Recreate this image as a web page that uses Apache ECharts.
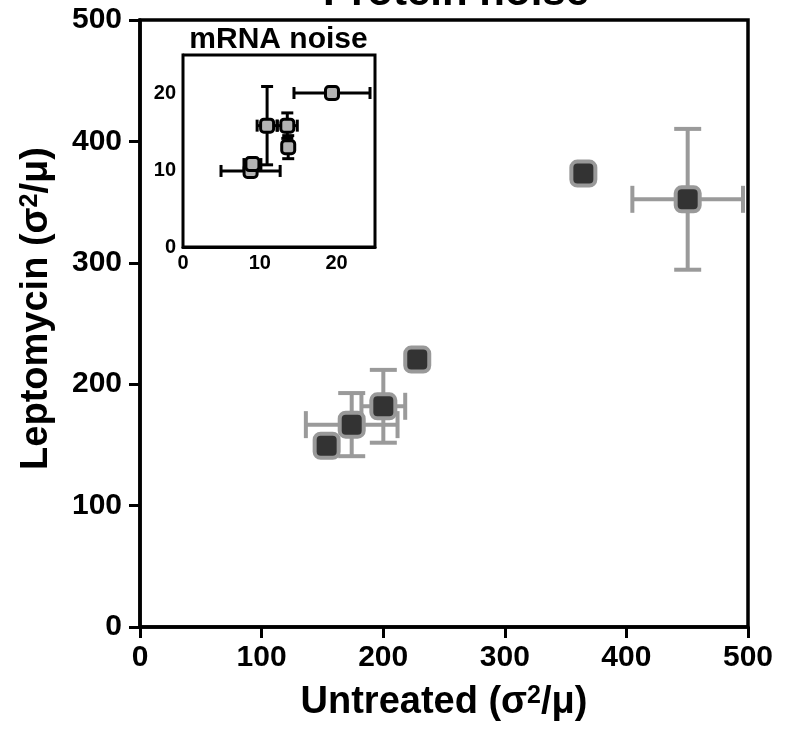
<!DOCTYPE html>
<html><head><meta charset="utf-8">
<script src="https://cdn.jsdelivr.net/npm/echarts@6/dist/echarts.min.js"></script>
<style>html,body{margin:0;padding:0;background:#fff}#c{width:790px;height:733px}</style>
</head><body><div id="c"></div>
<script>
// ---- data ----
const mainTitle = 'Protein noise';
const insetTitle = 'mRNA noise';
const mainTicks = [0, 100, 200, 300, 400, 500];
const insetTicks = [0, 10, 20];
// Protein noise: untreated (x) vs leptomycin (y), with SD
const mainX    = [153.5, 174.1, 200.1, 228.0, 364.6, 450.4];
const mainY    = [149.3, 166.7, 181.8, 220.3, 373.5, 352.3];
const mainXErr = [0, 37.7, 18.0, 0, 0, 45.5];
const mainYErr = [0, 26.0, 30.0, 0, 0, 58.0];
// mRNA noise inset
const insetX    = [8.8, 9.04, 10.95, 13.58, 13.7, 19.4];
const insetY    = [9.9, 10.8, 15.8, 15.8, 13.0, 20.05];
const insetXErr = [3.85, 1.1, 1.3, 1.3, 0, 4.95];
const insetYErr = [0, 0, 5.1, 1.66, 1.5, 0];

const FONT = "'Liberation Sans', Arial, Helvetica, sans-serif";
const mainData = mainX.map((x, i) => [x, mainY[i], mainXErr[i], mainYErr[i]]);
const insetData = insetX.map((x, i) => [x, insetY[i], insetXErr[i], insetYErr[i]]);

function errRender(color, lw, cap) {
  return function (params, api) {
    const x = api.value(0), y = api.value(1), ex = api.value(2), ey = api.value(3);
    const st = { stroke: color, lineWidth: lw, fill: null };
    const ch = [];
    const ln = (a, b, c, d) => ch.push({ type: 'line', shape: { x1: a, y1: b, x2: c, y2: d }, style: st });
    if (ex > 0) {
      const l = api.coord([x - ex, y]), r = api.coord([x + ex, y]);
      ln(l[0], l[1], r[0], r[1]);
      ln(l[0], l[1] - cap / 2, l[0], l[1] + cap / 2);
      ln(r[0], r[1] - cap / 2, r[0], r[1] + cap / 2);
    }
    if (ey > 0) {
      const t = api.coord([x, y + ey]), b = api.coord([x, y - ey]);
      ln(t[0], t[1], b[0], b[1]);
      ln(t[0] - cap / 2, t[1], t[0] + cap / 2, t[1]);
      ln(b[0] - cap / 2, b[1], b[0] + cap / 2, b[1]);
    }
    return { type: 'group', children: ch };
  };
}

const nameRich = {
  n: { fontSize: 38, fontWeight: 'bold', fontFamily: FONT, color: '#000', lineHeight: 38 },
  s: { fontSize: 25, fontWeight: 'bold', fontFamily: FONT, color: '#000', lineHeight: 16, verticalAlign: 'top' }
};

const chart = echarts.init(document.getElementById('c'), null, { renderer: 'canvas' });
chart.setOption({
  animation: false,
  backgroundColor: '#fff',
  textStyle: { fontFamily: FONT },
  graphic: [
    { type: 'text', z: 100, style: { text: mainTitle, x: 456, y: -7, textAlign: 'center', textVerticalAlign: 'middle', font: "bold 42px " + FONT, fill: '#000' } },
    { type: 'text', z: 100, style: { text: insetTitle, x: 278.5, y: 40, textAlign: 'center', textVerticalAlign: 'middle', font: "bold 30px " + FONT, fill: '#000' } }
  ],
  grid: [
    { left: 140, top: 20, right: 42, bottom: 106, show: true, borderColor: '#000', borderWidth: 3.5, backgroundColor: '#fff' },
    { left: 183, top: 55, right: 415, bottom: 486, show: true, borderColor: '#000', borderWidth: 3, backgroundColor: '#fff', z: 5 }
  ],
  xAxis: [
    { gridIndex: 0, type: 'value', min: mainTicks[0], max: mainTicks[mainTicks.length - 1], interval: 100,
      name: '{n|Untreated (σ}{s|2}{n|/μ)}', nameLocation: 'middle', nameGap: 57,
      nameTextStyle: { rich: nameRich },
      axisLine: { show: true, onZero: false, lineStyle: { color: '#000', width: 3.5 } },
      axisTick: { show: true, length: 11, lineStyle: { color: '#000', width: 3 } },
      axisLabel: { margin: 16, fontSize: 30, fontWeight: 'bold', color: '#000', fontFamily: FONT },
      splitLine: { show: false } },
    { gridIndex: 1, type: 'value', min: insetTicks[0], max: 25, interval: 10,
      axisLine: { show: true, onZero: false, lineStyle: { color: '#000', width: 3 } },
      axisTick: { show: false },
      axisLabel: { margin: 6, fontSize: 20, fontWeight: 'bold', color: '#000', fontFamily: FONT, showMaxLabel: false },
      splitLine: { show: false } }
  ],
  yAxis: [
    { gridIndex: 0, type: 'value', min: mainTicks[0], max: mainTicks[mainTicks.length - 1], interval: 100,
      name: '{n|Leptomycin (σ}{s|2}{n|/μ)}', nameLocation: 'middle', nameGap: 84, nameRotate: 90,
      nameTextStyle: { rich: nameRich, padding: [0, 0, 0, 30] },
      axisLine: { show: true, onZero: false, lineStyle: { color: '#000', width: 3.5 } },
      axisTick: { show: true, length: 11, lineStyle: { color: '#000', width: 3 } },
      axisLabel: { margin: 18, fontSize: 30, fontWeight: 'bold', color: '#000', fontFamily: FONT },
      splitLine: { show: false } },
    { gridIndex: 1, type: 'value', min: insetTicks[0], max: 25, interval: 10,
      axisLine: { show: true, onZero: false, lineStyle: { color: '#000', width: 3 } },
      axisTick: { show: false },
      axisLabel: { margin: 7, fontSize: 20, fontWeight: 'bold', color: '#000', fontFamily: FONT, showMaxLabel: false },
      splitLine: { show: false } }
  ],
  series: [
    { type: 'custom', xAxisIndex: 0, yAxisIndex: 0, z: 2, data: mainData,
      renderItem: errRender('#9a9a9a', 4, 27), silent: true },
    { type: 'scatter', xAxisIndex: 0, yAxisIndex: 0, z: 3, data: mainData,
      symbol: 'roundRect', symbolSize: 24,
      itemStyle: { color: '#333333', borderColor: '#999999', borderWidth: 4, opacity: 1 } },
    { type: 'custom', xAxisIndex: 1, yAxisIndex: 1, z: 6, data: insetData,
      renderItem: errRender('#000', 3, 12), silent: true },
    { type: 'scatter', xAxisIndex: 1, yAxisIndex: 1, z: 7, data: insetData,
      symbol: 'roundRect', symbolSize: 13,
      itemStyle: { color: '#b3b3b3', borderColor: '#000', borderWidth: 3, opacity: 1 } }
  ]
});
</script>
</body></html>
